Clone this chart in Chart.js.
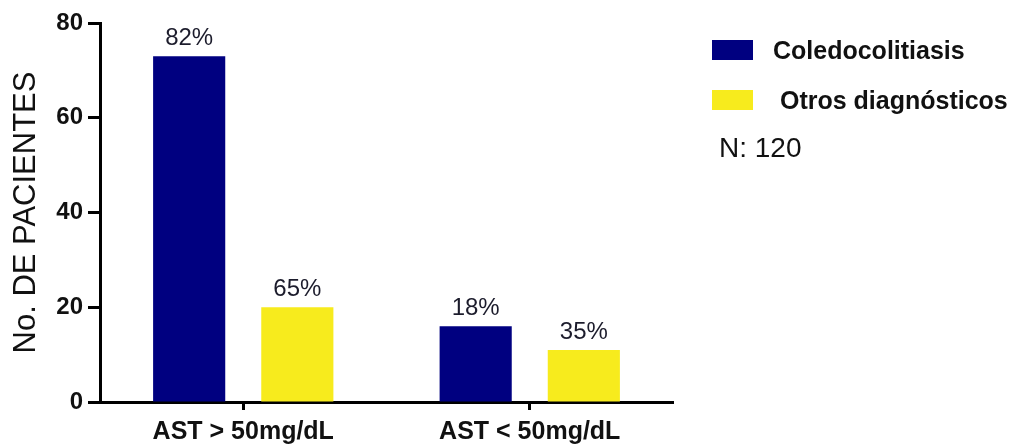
<!DOCTYPE html>
<html>
<head>
<meta charset="utf-8">
<script src="https://cdn.jsdelivr.net/npm/chart.js@4/dist/chart.umd.min.js"></script>
<style>
  html, body { margin: 0; padding: 0; background: #fff; }
  canvas { display: block; }
</style>
</head>
<body>
<canvas id="chart" width="1016" height="447"></canvas>
<script>
// Patients per AST group and diagnosis
const categories = ['AST > 50mg/dL', 'AST < 50mg/dL'];
const seriesNames = ['Coledocolitiasis', ' Otros diagnósticos'];
const coledocolitiasis = [73, 16];
const otrosDiagnosticos = [20, 11];
const yTickStep = 20;
const yMax = 80;
const sampleNote = 'N: 120';
const yTitle = 'No. DE PACIENTES';

const FONT = "'Liberation Sans', Arial, Helvetica, sans-serif";
const NAVY = '#000080';
const YELLOW = '#f7eb1d';

// Share of each diagnosis falling in each AST group
function shares(values) {
  const total = values.reduce((a, b) => a + b, 0);
  return values.map(v => Math.round(v / total * 100) + '%');
}

const valueLabels = {
  id: 'valueLabels',
  afterDatasetsDraw(chart) {
    const ctx = chart.ctx;
    ctx.save();
    ctx.font = '24px ' + FONT;
    ctx.fillStyle = '#1c1c2c';
    ctx.textAlign = 'center';
    ctx.textBaseline = 'alphabetic';
    chart.data.datasets.forEach((ds, i) => {
      const labels = shares(ds.data);
      chart.getDatasetMeta(i).data.forEach((bar, j) => {
        ctx.fillText(labels[j], bar.x, bar.y - 11);
      });
    });
    ctx.restore();
  }
};

const sideLegend = {
  id: 'sideLegend',
  afterDraw(chart) {
    const ctx = chart.ctx;
    ctx.save();
    chart.data.datasets.forEach((ds, i) => {
      const top = 40 + i * 50;
      ctx.fillStyle = ds.backgroundColor;
      ctx.fillRect(712, top, 41, 20);
      ctx.fillStyle = '#111';
      ctx.font = 'bold 25px ' + FONT;
      ctx.textAlign = 'left';
      ctx.textBaseline = 'middle';
      ctx.fillText(ds.label, 773, top + 12);
    });
    ctx.font = '28px ' + FONT;
    ctx.fillStyle = '#111';
    ctx.textBaseline = 'middle';
    ctx.fillText(sampleNote, 719, 149);
    ctx.restore();
  }
};

new Chart(document.getElementById('chart'), {
  type: 'bar',
  data: {
    labels: categories,
    datasets: [
      { label: seriesNames[0], data: coledocolitiasis, backgroundColor: NAVY },
      { label: seriesNames[1], data: otrosDiagnosticos, backgroundColor: YELLOW }
    ]
  },
  options: {
    responsive: false,
    animation: false,
    devicePixelRatio: 1,
    layout: { padding: { top: 23, right: 343, bottom: 0, left: 0 } },
    datasets: { bar: { categoryPercentage: 0.755, barPercentage: 0.667 } },
    plugins: {
      legend: { display: false },
      tooltip: { enabled: false }
    },
    scales: {
      x: {
        grid: { display: true, offset: false, drawOnChartArea: false, drawTicks: true,
                tickLength: 8, tickWidth: 3, tickColor: '#000' },
        border: { display: true, width: 3, color: '#000' },
        ticks: { color: '#111', font: { family: FONT, size: 25, weight: 'bold' }, padding: 7 },
        afterFit(scale) { scale.height = 45; }
      },
      y: {
        min: 0,
        max: yMax,
        ticks: { stepSize: yTickStep, color: '#111', font: { family: FONT, size: 24, weight: 'bold' }, padding: 5 },
        grid: { display: true, drawOnChartArea: false, drawTicks: true,
                tickLength: 12, tickWidth: 3, tickColor: '#000' },
        border: { display: true, width: 3, color: '#000' },
        title: { display: true, text: yTitle, color: '#111',
                 font: { family: FONT, size: 31 }, padding: { top: 8, bottom: 0 } },
        afterFit(scale) { scale.width = 100; }
      }
    }
  },
  plugins: [valueLabels, sideLegend]
});
</script>
</body>
</html>
